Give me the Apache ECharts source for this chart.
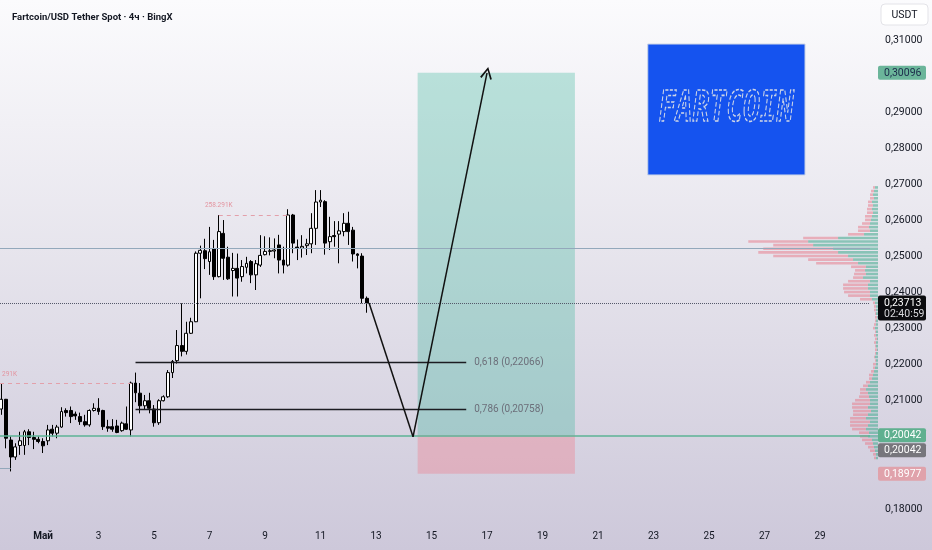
<!DOCTYPE html>
<html><head><meta charset="utf-8">
<script src="https://cdn.jsdelivr.net/npm/echarts@6/dist/echarts.min.js"></script>
<style>html,body{margin:0;padding:0;background:#fff}#c{width:932px;height:550px}</style>
</head><body><div id="c"></div>
<script>
// ---------- DATA ----------
const chartTitle = 'Fartcoin/USD Tether Spot · 4ч · BingX';
const axisUnit = 'USDT';
// x labels: hours from May 1 00:00
const dayLabels = ['Май','3','5','7','9','11','13','15','17','19','21','23','25','27','29'];
const dayHours  = [0,48,96,144,192,240,288,336,384,432,480,528,576,624,672];
const firstCandleHour = -36;   // 29 Apr 12:00
const candleStepHours = 4;     // 4h candles
const opens  = [0.2077,0.2104,0.1991,0.1944,0.1976,0.1976,0.2014,0.1998,0.1993,0.1987,
                0.1989,0.2021,0.2010,0.2027,0.2073,0.2073,0.2063,0.2056,0.2042,0.2033,
                0.2073,0.2079,0.2073,0.2028,0.2028,0.2030,0.2017,0.2036,0.2019,0.2149,
                0.2121,0.2086,0.2100,0.2077,0.2039,0.2100,0.2111,0.2178,0.2211,0.2253,
                0.2237,0.2287,0.2319,0.2509,0.2516,0.2486,0.2522,0.2444,0.2564,0.2498,
                0.2461,0.2467,0.2444,0.2470,0.2486,0.2449,0.2476,0.2505,0.2514,0.2515,
                0.2532,0.2490,0.2476,0.2615,0.2526,0.2523,0.2530,0.2535,0.2578,0.2651,
                0.2652,0.2541,0.2558,0.2562,0.2569,0.2592,0.2573,0.2507,0.2501,0.2384];
const closes = [0.2104,0.1996,0.1944,0.1972,0.1989,0.2014,0.1998,0.1993,0.1987,0.1975,
                0.2019,0.2010,0.2027,0.2070,0.2067,0.2056,0.2058,0.2042,0.2033,0.2073,
                0.2079,0.2070,0.2028,0.2024,0.2021,0.2012,0.2038,0.2021,0.2149,0.2122,
                0.2086,0.2100,0.2079,0.2039,0.2100,0.2111,0.2178,0.2209,0.2253,0.2237,
                0.2287,0.2319,0.2509,0.2517,0.2494,0.2513,0.2444,0.2569,0.2495,0.2438,
                0.2467,0.2440,0.2472,0.2481,0.2449,0.2480,0.2503,0.2514,0.2516,0.2518,
                0.2490,0.2476,0.2615,0.2537,0.2523,0.2528,0.2535,0.2578,0.2651,0.2656,
                0.2537,0.2555,0.2555,0.2571,0.2592,0.2569,0.2507,0.2503,0.2384,0.2371];
const lows   = [0.2061,0.1968,0.1904,0.1936,0.1950,0.1950,0.1977,0.1966,0.1982,0.1955,
                0.1977,0.2001,0.1996,0.2025,0.2056,0.2038,0.2047,0.2033,0.2028,0.2028,
                0.2070,0.2061,0.2019,0.2014,0.2014,0.2010,0.2014,0.2019,0.2001,0.2096,
                0.2065,0.2075,0.2065,0.2028,0.2033,0.2098,0.2108,0.2163,0.2203,0.2223,
                0.2228,0.2285,0.2318,0.2384,0.2465,0.2449,0.2435,0.2442,0.2435,0.2435,
                0.2389,0.2389,0.2430,0.2453,0.2426,0.2407,0.2471,0.2503,0.2503,0.2495,
                0.2453,0.2453,0.2472,0.2509,0.2490,0.2497,0.2504,0.2509,0.2532,0.2637,
                0.2505,0.2518,0.2527,0.2481,0.2556,0.2532,0.2486,0.2467,0.2370,0.2344];
const highs  = [0.2149,0.2105,0.2001,0.1982,0.2014,0.2019,0.2021,0.2014,0.2001,0.1996,
                0.2033,0.2033,0.2033,0.2082,0.2079,0.2084,0.2070,0.2067,0.2061,0.2076,
                0.2093,0.2107,0.2075,0.2047,0.2049,0.2047,0.2042,0.2084,0.2153,0.2178,
                0.2149,0.2116,0.2122,0.2088,0.2104,0.2115,0.2185,0.2213,0.2296,0.2370,
                0.2319,0.2330,0.2514,0.2530,0.2549,0.2582,0.2546,0.2615,0.2601,0.2527,
                0.2510,0.2508,0.2490,0.2499,0.2490,0.2490,0.2559,0.2556,0.2553,0.2550,
                0.2560,0.2527,0.2631,0.2618,0.2547,0.2559,0.2549,0.2620,0.2684,0.2684,
                0.2656,0.2610,0.2598,0.2598,0.2620,0.2624,0.2582,0.2509,0.2509,0.2389];
// price levels / annotations
const pocPrice = 0.2524;
const lastPrice = 0.23713, lastTimer = '02:40:59';
const entryPrice = 0.20042, targetPrice = 0.30096, stopPrice = 0.18977;
const fibLevels = [0.618, 0.786];
const fibPrices = [0.22066, 0.20758];
const fibStartHour = 80, fibEndHour = 366;
const longStartHour = 324, longEndHour = 460;
const pathHours  = [282, 320, 384];
const pathPrices = [0.2371, 0.2000, 0.3009];
const pivotHigh = 0.2615, pivotHighFrom = 47, pivotHighTo = 62, pivotHighLabel = '258.291K';
const pivotLeft = 0.2149, pivotLeftTo = 28, pivotLeftLabel = '291K';
const lowMark = 0.1914, lowMarkTo = 2;
const logoText = 'FARTCOIN';
const logoHours = [523, 659], logoPrices = [0.3089, 0.2726];
// volume profile (rows of 0.001)
const profileLow = 0.194, profileStep = 0.001;
const profileUp   = [2,2,3,4,5,6,10,9,12,10,8,12,10,7,10,8,8,9,10,12,10,8,6,5,4,3,2,2,3,2,1,2,2,1,2,2,3,2,2,1,2,2,2,3,6,8,8,10,10,8,15,12,13,12,20,25,30,40,45,65,70,40,14,8,9,8,7,6,5,6,5,6,4,5,4,3];
const profileDown = [2,3,5,6,8,10,8,10,14,18,20,16,15,18,16,18,15,10,8,6,5,4,3,4,3,2,3,1,1,1,2,1,2,2,2,1,2,2,1,2,1,2,2,2,12,22,26,25,25,22,10,12,10,15,42,45,75,80,70,40,60,35,16,12,11,8,6,7,6,5,5,4,4,3,3,2];
// price axis
const priceMin = 0.17, priceMax = 0.32, priceStep = 0.01;
const hiddenPriceLabels = [0.17, 0.19, 0.20, 0.30, 0.32];

// ---------- BUILD ----------
const xMin = -37.2, xMax = 715.2;
const candleData = opens.map((o, i) => [firstCandleHour + i * candleStepHours, o, closes[i], lows[i], highs[i]]);
const candleHour = i => firstCandleHour + i * candleStepHours;
const profileData = profileUp.map((u, i) => [+(profileLow + i * profileStep).toFixed(4), u, profileDown[i]]);
const fmtPrice = v => v.toFixed(5).replace('.', ',');
const hLine = (v, style) => [{coord: [xMin, v], lineStyle: style}, {coord: [xMax, v]}];

const chart = echarts.init(document.getElementById('c'));
const FONT = 'Roboto';
const option = {
  animation: false,
  backgroundColor: {type:'linear', x:0, y:0, x2:0, y2:1, colorStops:[
    {offset:0, color:'#fbfbfd'}, {offset:0.45, color:'#e7e5ed'}, {offset:1, color:'#cdc8da'}]},
  title: {text: chartTitle, left: 7, top: 8,
    textStyle: {fontSize: 9.5, fontWeight: 'bold', color: '#131722', fontFamily: FONT}},
  grid: [
    {left: 0, right: 62, top: 4, bottom: 5, outerBoundsMode: 'none'},
    {left: 0, right: 54, top: 4, bottom: 5, outerBoundsMode: 'none'}
  ],
  xAxis: [
    {type: 'value', gridIndex: 0, min: xMin, max: xMax, offset: -17,
     axisLine: {show: false}, axisTick: {show: false}, splitLine: {show: false},
     axisLabel: {customValues: dayHours, margin: 3, fontSize: 10, color: '#131722', fontFamily: FONT,
       formatter: v => { const i = dayHours.indexOf(v); if (i < 0) return ''; return i === 0 ? '{m|' + dayLabels[0] + '}' : dayLabels[i]; },
       rich: {m: {fontWeight: 'bold', fontSize: 10, color: '#131722', fontFamily: FONT}}}},
    {type: 'value', gridIndex: 1, min: 0, max: 880, inverse: true, show: false}
  ],
  yAxis: [
    {type: 'value', gridIndex: 0, position: 'right', min: priceMin, max: priceMax, interval: priceStep,
     axisLine: {show: false}, axisTick: {show: false}, splitLine: {show: false},
     axisLabel: {margin: 15, fontSize: 10.5, color: '#131722', fontFamily: FONT,
       formatter: v => hiddenPriceLabels.some(h => Math.abs(h - v) < 1e-6) ? '' : fmtPrice(v)}},
    {type: 'value', gridIndex: 1, min: priceMin, max: priceMax, show: false}
  ],
  series: [
    {type: 'custom', xAxisIndex: 1, yAxisIndex: 1, z: 1, silent: true,
     data: profileData, encode: {x: [1, 2], y: 0},
     renderItem: (params, api) => {
       const p = api.value(0), u = api.value(1), d = api.value(2);
       const a = api.coord([0, p + profileStep / 2]);
       const b = api.coord([u, p - profileStep / 2]);
       const c = api.coord([u + d, p - profileStep / 2]);
       const h = Math.max(0.8, b[1] - a[1] - 1);
       return {type: 'group', children: [
         {type: 'rect', shape: {x: b[0], y: a[1], width: a[0] - b[0], height: h}, style: {fill: 'rgba(60,168,138,0.55)'}},
         {type: 'rect', shape: {x: c[0], y: a[1], width: b[0] - c[0], height: h}, style: {fill: 'rgba(232,118,134,0.5)'}}
       ]};
     }},
    {type: 'line', xAxisIndex: 0, yAxisIndex: 0, data: [], z: 2, silent: true,
     markArea: {silent: true, data: [
       [{coord: [longStartHour, targetPrice], itemStyle: {color: 'rgba(45,180,150,0.30)'}}, {coord: [longEndHour, entryPrice]}],
       [{coord: [longStartHour, entryPrice], itemStyle: {color: 'rgba(250,90,105,0.26)'}}, {coord: [longEndHour, stopPrice]}],
       [{coord: [logoHours[0], logoPrices[0]], itemStyle: {color: '#1553ef', borderColor: '#c9d3e6', borderWidth: 1}}, {coord: [logoHours[1], logoPrices[1]]}]
     ]},
     markLine: {silent: true, symbol: ['none', 'none'], label: {show: false}, precision: 5, data: [
       hLine(pocPrice, {color: '#93a8bb', width: 1, type: 'solid'}),
       hLine(lastPrice, {color: '#55596a', width: 1, type: 'dotted'}),
       hLine(entryPrice, {color: '#5db394', width: 1.5, type: 'solid'}),
       ...fibPrices.map((fp, i) => [
         {coord: [fibStartHour, fp], lineStyle: {color: '#1c1c22', width: 1.3, type: 'solid'},
          label: {show: true, position: 'end', distance: 8, color: '#6c6f7a', fontSize: 10, fontFamily: FONT,
                  formatter: fibLevels[i].toFixed(3).replace('.', ',') + ' (' + fmtPrice(fp) + ')'}},
         {coord: [fibEndHour, fp]}]),
       [{coord: [candleHour(pivotHighFrom), pivotHigh], lineStyle: {color: '#e3a0aa', width: 1, type: [4, 4]}}, {coord: [candleHour(pivotHighTo), pivotHigh]}],
       [{coord: [xMin, pivotLeft], lineStyle: {color: '#e3a0aa', width: 1, type: [4, 4]}}, {coord: [candleHour(pivotLeftTo), pivotLeft]}],
       [{coord: [xMin, lowMark], lineStyle: {color: '#93a8bb', width: 1, type: 'solid'}}, {coord: [candleHour(lowMarkTo), lowMark]}],
       [{coord: [pathHours[0], pathPrices[0]], lineStyle: {color: '#111', width: 1.5, type: 'solid'}}, {coord: [pathHours[1], pathPrices[1]]}],
       [{coord: [pathHours[1], pathPrices[1]], lineStyle: {color: '#111', width: 1.5, type: 'solid'}},
        {coord: [pathHours[2], pathPrices[2]], symbol: 'path://M0,10 L5,0 L10,10 L8.7,10.7 L5,3 L1.3,10.7 Z', symbolSize: [12, 12]}]
     ]}},
    {type: 'candlestick', xAxisIndex: 0, yAxisIndex: 0, z: 3, silent: true,
     data: candleData, encode: {x: 0, y: [1, 2, 3, 4]}, barWidth: 3.4,
     itemStyle: {color: '#ffffff', color0: '#000000', borderColor: '#000000', borderColor0: '#000000', borderWidth: 1}}
  ]
};
chart.setOption(option);

// ---------- annotations positioned through the axes ----------
const P = (h, v) => chart.convertToPixel({gridIndex: 0}, [h, v]);
const Y = v => chart.convertToPixel({yAxisIndex: 0}, v);
const gfx = [];
function badge(yc, txt, bg, fg, two) {
  const hgt = two ? 25 : 14;
  const top = two ? yc - 7.5 : yc - hgt / 2;
  gfx.push({type: 'rect', shape: {x: 878, y: top, width: 48, height: hgt, r: 2}, style: {fill: bg}, z: 20});
  gfx.push({type: 'text', x: 884, y: top + 7.5, z: 21, style: {text: txt, fill: fg, font: '10.5px ' + FONT, verticalAlign: 'middle'}});
  if (two) gfx.push({type: 'text', x: 884, y: top + 18.5, z: 21, style: {text: lastTimer, fill: '#d8d8dc', font: '10.5px ' + FONT, verticalAlign: 'middle'}});
}
// USDT box
gfx.push({type: 'rect', shape: {x: 881, y: 4, width: 47, height: 21, r: 4}, style: {fill: '#ffffff', stroke: '#e3e3e8', lineWidth: 1}, z: 20});
gfx.push({type: 'text', x: 904.5, y: 15, z: 21, style: {text: axisUnit, fill: '#131722', font: '10.5px ' + FONT, align: 'center', verticalAlign: 'middle'}});
badge(Y(targetPrice), fmtPrice(targetPrice), '#6bb59a', '#1b2a4a');
badge(Y(lastPrice), fmtPrice(lastPrice), '#0b0b0e', '#ffffff', true);
const ye = Y(entryPrice);
badge(ye, fmtPrice(entryPrice), '#5fb08f', '#ffffff');
badge(ye + 15, fmtPrice(entryPrice), '#77767c', '#ffffff');
badge(Y(stopPrice), fmtPrice(stopPrice), '#e0a2ab', '#ffffff');
// pivot labels
const ph = P(candleHour(pivotHighFrom), pivotHigh);
gfx.push({type: 'text', x: ph[0], y: ph[1] - 10, z: 10, style: {text: pivotHighLabel, fill: '#e3949f', font: '6.5px ' + FONT, align: 'center', verticalAlign: 'middle'}});
const pl = P(xMin, pivotLeft);
gfx.push({type: 'text', x: pl[0] + 2, y: pl[1] - 9, z: 10, style: {text: pivotLeftLabel, fill: '#e3949f', font: '6.5px ' + FONT, align: 'left', verticalAlign: 'middle'}});
// logo text inside blue box
const l0 = P(logoHours[0], logoPrices[0]), l1 = P(logoHours[1], logoPrices[1]);
gfx.push({type: 'text', x: (l0[0] + l1[0]) / 2, y: (l0[1] + l1[1]) / 2, scaleY: 1.55, z: 10,
  style: {text: logoText, font: 'italic bold 28px "DejaVu Sans Mono"', fill: 'rgba(0,0,0,0)', stroke: '#cdd5e6', lineWidth: 1, lineDash: [3, 1.5], align: 'center', verticalAlign: 'middle'}});
chart.setOption({graphic: {elements: gfx}});
</script>
</body></html>
